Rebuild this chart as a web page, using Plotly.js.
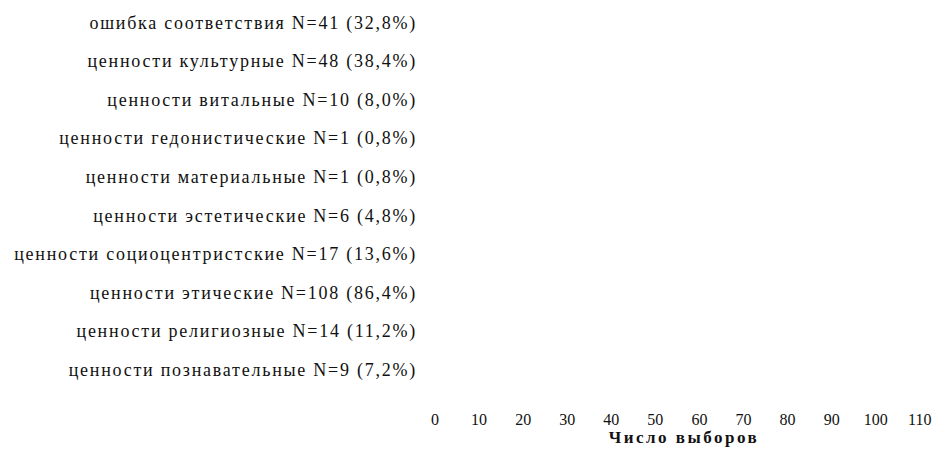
<!DOCTYPE html>
<html>
<head>
<meta charset="utf-8">
<script src="https://cdn.plot.ly/plotly-3.0.1.min.js"></script>
<style>
html,body{margin:0;padding:0;background:#fff;}
#chart{width:942px;height:453px;}
#chart g.ytick text{letter-spacing:1.75px;}
#chart .xtitle{letter-spacing:2.5px;}
</style>
</head>
<body>
<div id="chart"></div>
<script>
// Categories, top to bottom as shown
const categories = [
  "ошибка соответствия",
  "ценности культурные",
  "ценности витальные",
  "ценности гедонистические",
  "ценности материальные",
  "ценности эстетические",
  "ценности социоцентристские",
  "ценности этические",
  "ценности религиозные",
  "ценности познавательные"
];
const counts = [41, 48, 10, 1, 1, 6, 17, 108, 14, 9];
const percents = ["32,8", "38,4", "8,0", "0,8", "0,8", "4,8", "13,6", "86,4", "11,2", "7,2"];
const xTicks = [0, 10, 20, 30, 40, 50, 60, 70, 80, 90, 100, 110];

const labels = categories.map((c, i) => c + " N=" + counts[i] + " (" + percents[i] + "%)");

const trace = {
  type: "bar",
  orientation: "h",
  x: counts,
  y: labels,
  marker: {color: "#ffffff"},
  hoverinfo: "x+y"
};

const FONT = "Liberation Serif";

const layout = {
  width: 942,
  height: 453,
  margin: {l: 435, r: 9, t: 3, b: 64},
  paper_bgcolor: "#ffffff",
  plot_bgcolor: "#ffffff",
  font: {family: FONT, size: 16, color: "#111111"},
  showlegend: false,
  bargap: 0.3,
  xaxis: {
    range: [0, 113],
    tickvals: xTicks,
    ticktext: xTicks.map(String),
    showgrid: false,
    zeroline: false,
    showline: false,
    ticks: "",
    ticklabelstandoff: 19,
    tickfont: {family: FONT, size: 16},
    title: {text: "<b>Число выборов</b>", font: {family: FONT, size: 17}, standoff: 4}
  },
  yaxis: {
    autorange: "reversed",
    showgrid: false,
    zeroline: false,
    showline: false,
    ticks: "",
    ticklabelstandoff: 17,
    tickfont: {family: FONT, size: 18}
  }
};

Plotly.newPlot("chart", [trace], layout, {displayModeBar: false, staticPlot: true});
</script>
</body>
</html>
